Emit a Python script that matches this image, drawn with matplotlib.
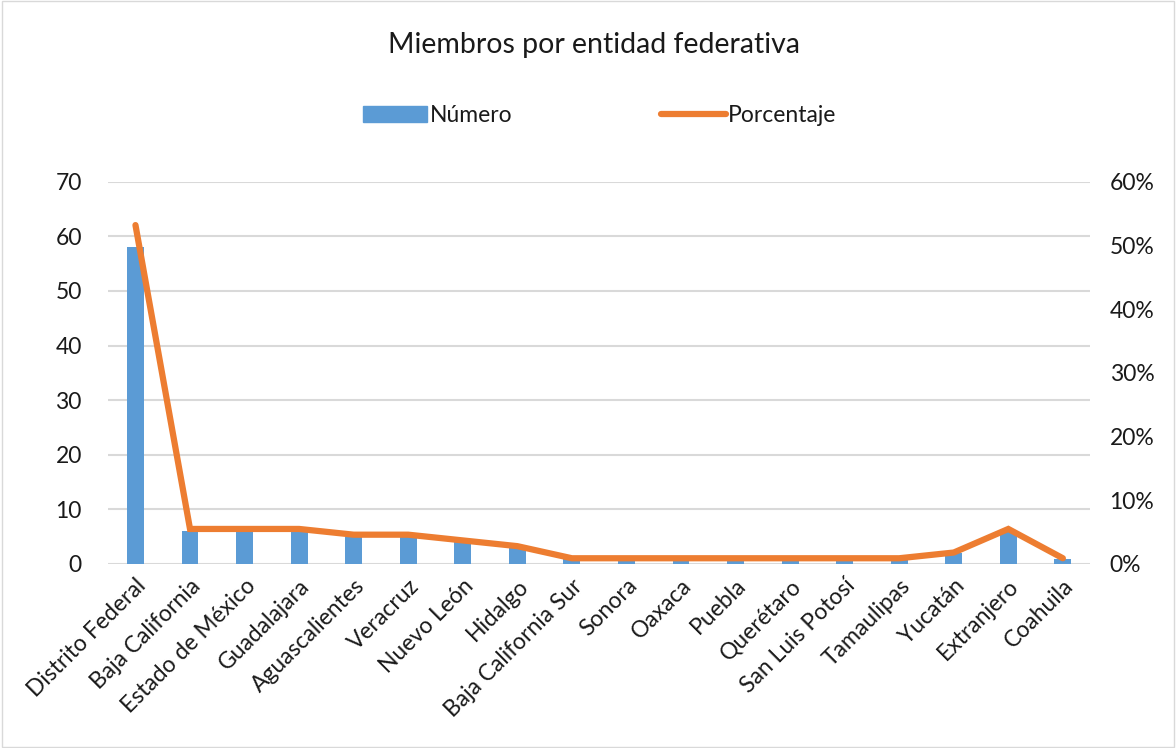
import matplotlib
matplotlib.use("Agg")
import matplotlib.pyplot as plt
from matplotlib.ticker import FuncFormatter
from matplotlib.lines import Line2D
from matplotlib.patches import Patch, Rectangle

plt.rcParams["font.family"] = ["Lato", "DejaVu Sans"]

# ---------------------------------------------------------------------------
# Data
# ---------------------------------------------------------------------------
entidades = [
    "Distrito Federal", "Baja California", "Estado de México", "Guadalajara",
    "Aguascalientes", "Veracruz", "Nuevo León", "Hidalgo",
    "Baja California Sur", "Sonora", "Oaxaca", "Puebla", "Querétaro",
    "San Luis Potosí", "Tamaulipas", "Yucatán", "Extranjero", "Coahuila",
]
numero = [58, 6, 6, 6, 5, 5, 4, 3, 1, 1, 1, 1, 1, 1, 1, 2, 6, 1]
porcentaje = [53.2, 5.5, 5.5, 5.5, 4.6, 4.6, 3.7, 2.8, 0.9, 0.9, 0.9,
              0.9, 0.9, 0.9, 0.9, 1.8, 5.5, 0.9]

BLUE = "#5b9bd5"
ORANGE = "#ed7d31"
TEXT = "#1a1a1a"
FS = 16.5

fig = plt.figure(figsize=(11.76, 7.48), dpi=100)
ax = fig.add_axes([0.092, 0.246, 0.835, 0.511])
ax2 = ax.twinx()

x = list(range(len(entidades)))
ax.bar(x, numero, width=0.31, color=BLUE, zorder=2)
ax2.plot(x, porcentaje, color=ORANGE, lw=4.5, solid_capstyle="round",
         solid_joinstyle="miter", zorder=3)

ax.set_xlim(-0.5, len(entidades) - 0.5)
ax.set_ylim(0, 70)
ax.set_yticks(range(0, 71, 10))
ax2.set_ylim(0, 60)
ax2.set_yticks(range(0, 61, 10))
ax2.yaxis.set_major_formatter(FuncFormatter(lambda v, _: f"{v:.0f}%"))

ax.grid(axis="y", color="#d9d9d9", lw=1.5, zorder=0)
ax.set_axisbelow(True)
for a in (ax, ax2):
    for s in a.spines.values():
        s.set_visible(False)
    a.tick_params(length=0, labelsize=FS, colors=TEXT)
ax.tick_params(axis="y", pad=19)
ax2.tick_params(axis="y", pad=14)

ax.set_xticks(x)
ax.set_xticklabels(entidades, rotation=45, ha="right", rotation_mode="anchor",
                   fontsize=FS)
ax.tick_params(axis="x", pad=8)

fig.text(0.505, 0.94, "Miembros por entidad federativa", ha="center",
         va="center", fontsize=20.5, color=TEXT)

handles = [Patch(color=BLUE, label="Número"),
           Line2D([0], [0], color=ORANGE, lw=4.5, solid_capstyle="round",
                  label="Porcentaje")]
fig.legend(handles=handles, loc="center", bbox_to_anchor=(0.51, 0.846),
           ncol=2, frameon=False, fontsize=FS, columnspacing=6.5,
           handlelength=2.8, handletextpad=0.1, labelcolor=TEXT)

fig.patches.append(Rectangle((0.002, 0.002), 0.996, 0.996,
                             transform=fig.transFigure, fill=False,
                             edgecolor="#d9d9d9", lw=1))

fig.savefig("out.png", dpi=100)
